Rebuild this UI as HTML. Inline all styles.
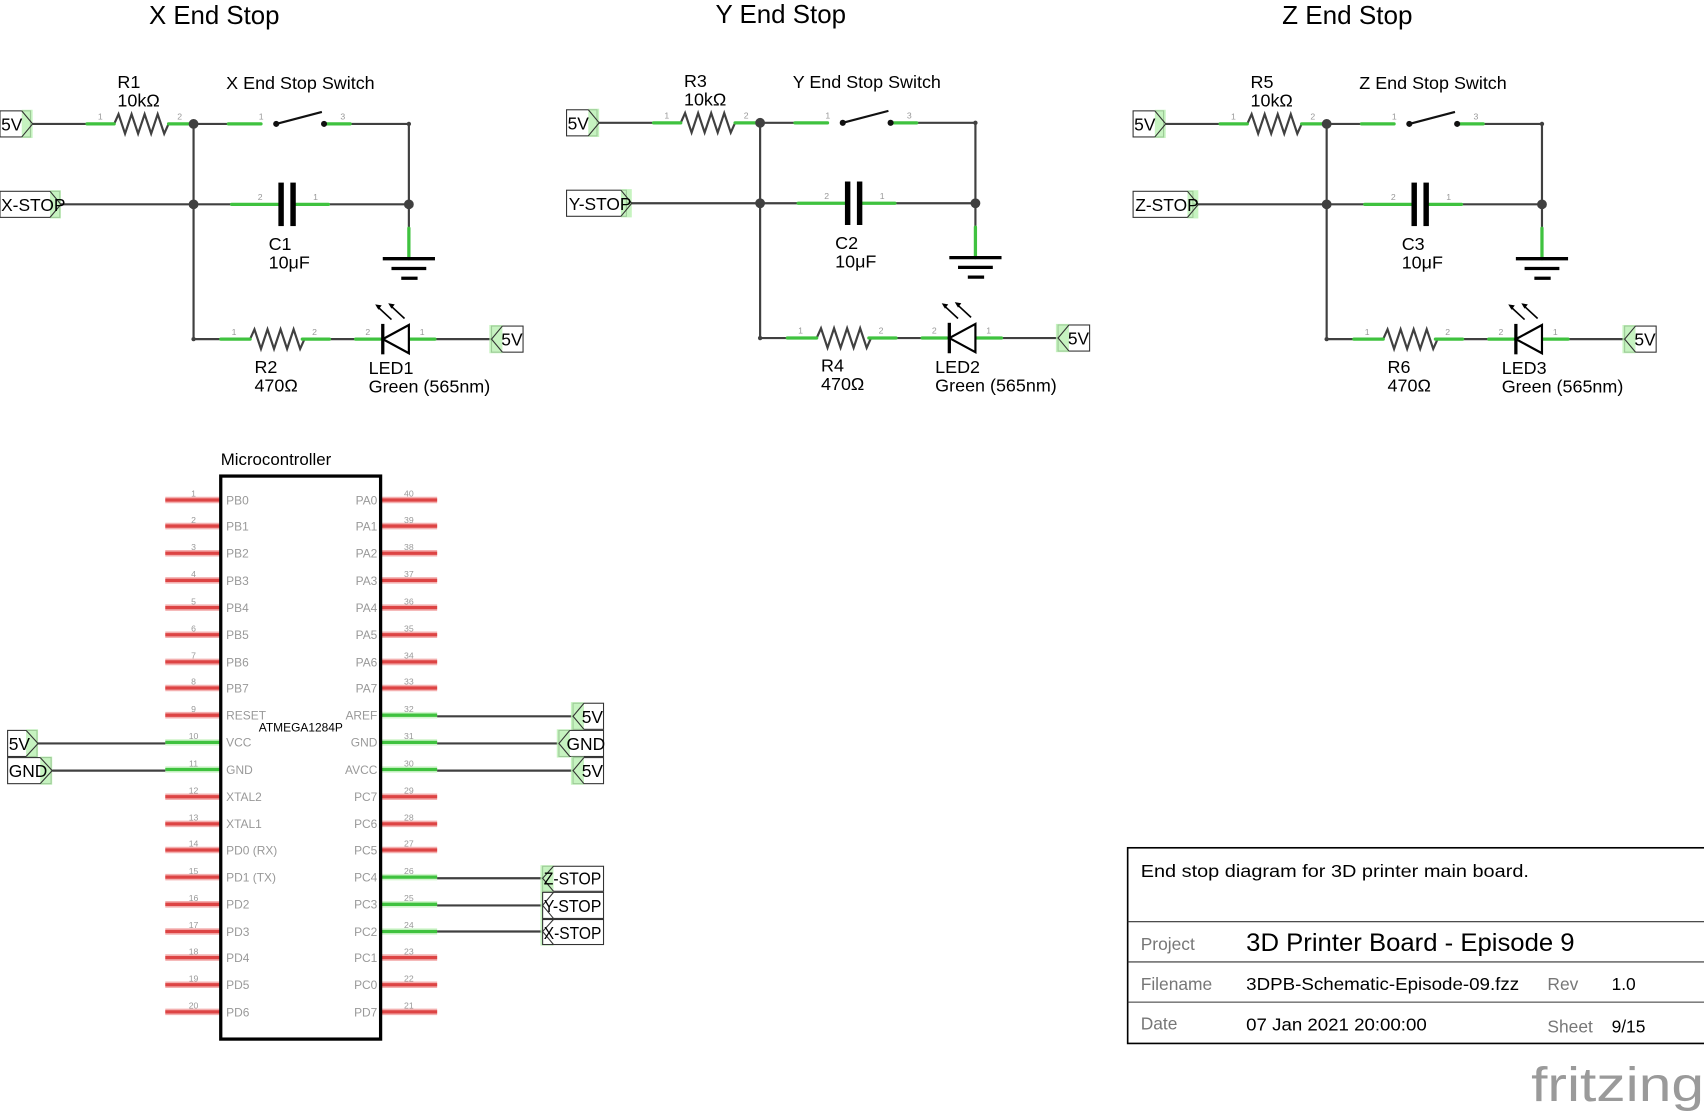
<!DOCTYPE html>
<html><head><meta charset="utf-8"><style>
html,body{margin:0;padding:0;background:#fff;}
svg{display:block;}
text{font-family:"Liberation Sans",sans-serif;}
.w{stroke:#404040;stroke-width:2;fill:none;}
.g{stroke:#3fc23f;stroke-width:3;fill:none;stroke-linecap:round;}
.n{fill:#404040;}
.pn{font-size:8px;fill:#999;}
.lb{font-size:16.5px;fill:#000;}
.ttl{font-size:24px;fill:#000;}
.nl{font-size:16px;fill:#000;}
.pin{stroke:#d44;stroke-width:3;}
.pinh{stroke:#f4b0b0;stroke-width:6;}
.gp{stroke:#3fc23f;stroke-width:3;}
.gph{stroke:#b8f0b0;stroke-width:6;}
.pname{font-size:11px;fill:#999;}
</style></head><body>
<svg width="1704" height="1113" viewBox="0 0 1567 1024" preserveAspectRatio="none" xmlns="http://www.w3.org/2000/svg">
<defs>
<g id="circ">
  <path class="w" d="M30 114H105M155 114H240M298 114H376V188M178 114V312M55 188H258M268 188H376M376 188V238M178 312H230M278 312H350M376 312H452"/>
  <path class="w" d="M105 114l4 -9l6 18l6 -18l6 18l6 -18l6 18l6 -18l6 18l4 -9"/>
  <path class="w" d="M230 312l4 -9l6 18l6 -18l6 18l6 -18l6 18l6 -18l6 18l4 -9"/>
  <path class="g" d="M80 114H105M155 114H178M210 114H240M298 114H322M213 188H256M270 188H302M376 210V238M203 312H230M278 312H303M327 312H350M376 312H400"/>
  <circle class="n" cx="178" cy="114" r="4.5"/><circle class="n" cx="178" cy="188" r="4.5"/><circle class="n" cx="376" cy="188" r="4.5"/>
  <circle class="n" cx="178" cy="312" r="2"/><circle class="n" cx="376" cy="114" r="2"/>
  <path d="M254 114L296 103" stroke="#111" stroke-width="2"/>
  <circle cx="254" cy="114" r="2.8" fill="#111"/><circle cx="298" cy="114" r="2.8" fill="#111"/>
  <rect x="256" y="168" width="5" height="40" fill="#000"/><rect x="267" y="168" width="5" height="40" fill="#000"/>
  <path d="M352 238H400M360 247H392M369 256H384" stroke="#000" stroke-width="3"/>
  <path d="M352 312L376 299V325Z" fill="#fff" stroke="#000" stroke-width="2"/>
  <path d="M352 298V326" stroke="#000" stroke-width="3"/>
  <path d="M360 294L347 282M372 293L359 281" stroke="#000" stroke-width="1.5"/>
  <path d="M345 280l6 1l-3 4zM357 279l6 1l-3 4z" fill="#000"/>
  <text class="pn" x="90" y="110">1</text><text class="pn" x="163" y="110">2</text>
  <text class="pn" x="238" y="110">1</text><text class="pn" x="313" y="110">3</text>
  <text class="pn" x="237" y="184">2</text><text class="pn" x="288" y="184">1</text>
  <text class="pn" x="213" y="308">1</text><text class="pn" x="287" y="308">2</text>
  <text class="pn" x="336" y="308">2</text><text class="pn" x="386" y="308">1</text>
  <rect x="0" y="102" width="28" height="24" fill="#fff" stroke="#333"/>
  <rect x="20" y="101" width="10" height="26" fill="#b8f0b0" opacity=".8"/>
  <path d="M20 102L30 114L20 126" fill="none" stroke="#333"/>
  <text class="nl" x="1" y="120">5V</text>
  <rect x="452" y="300" width="29" height="24" fill="#fff" stroke="#333"/>
  <rect x="450" y="299" width="12" height="26" fill="#b8f0b0" opacity=".8"/>
  <path d="M462 300L452 312L462 324" fill="none" stroke="#333"/>
  <text class="nl" x="461" y="318">5V</text>
</g>
</defs>

<use href="#circ"/>
<rect x="0" y="176" width="55" height="24" fill="#fff" stroke="#333"/>
<rect x="46" y="175" width="10" height="26" fill="#b8f0b0" opacity=".8"/>
<path d="M46 176L56 188L46 200" fill="none" stroke="#333"/>
<text class="nl" x="1" y="194">X-STOP</text>
<text class="ttl" x="137" y="22" textLength="120" lengthAdjust="spacingAndGlyphs">X End Stop</text>
<text class="lb" x="108" y="81">R1</text><text class="lb" x="108" y="98">10kΩ</text>
<text class="lb" x="208" y="82">X End Stop Switch</text>
<text class="lb" x="247" y="230">C1</text><text class="lb" x="247" y="247">10μF</text>
<text class="lb" x="234" y="343">R2</text><text class="lb" x="234" y="360">470Ω</text>
<text class="lb" x="339" y="344">LED1</text><text class="lb" x="339" y="361">Green (565nm)</text>

<g transform="translate(521,-1)">
<use href="#circ"/>
<rect x="0" y="176" width="55" height="24" fill="#fff" stroke="#333"/>
<rect x="50" y="175" width="10" height="26" fill="#b8f0b0" opacity=".8"/>
<path d="M50 176L60 188L50 200" fill="none" stroke="#333"/>
<text class="nl" x="2" y="194">Y-STOP</text>
<text class="ttl" x="137" y="22" textLength="120" lengthAdjust="spacingAndGlyphs">Y End Stop</text>
<text class="lb" x="108" y="81">R3</text><text class="lb" x="108" y="98">10kΩ</text>
<text class="lb" x="208" y="82">Y End Stop Switch</text>
<text class="lb" x="247" y="230">C2</text><text class="lb" x="247" y="247">10μF</text>
<text class="lb" x="234" y="343">R4</text><text class="lb" x="234" y="360">470Ω</text>
<text class="lb" x="339" y="344">LED2</text><text class="lb" x="339" y="361">Green (565nm)</text>
</g>

<g transform="translate(1042,0)">
<use href="#circ"/>
<rect x="0" y="176" width="55" height="24" fill="#fff" stroke="#333"/>
<rect x="50" y="175" width="10" height="26" fill="#b8f0b0" opacity=".8"/>
<path d="M50 176L60 188L50 200" fill="none" stroke="#333"/>
<text class="nl" x="2" y="194">Z-STOP</text>
<text class="ttl" x="137" y="22" textLength="120" lengthAdjust="spacingAndGlyphs">Z End Stop</text>
<text class="lb" x="108" y="81">R5</text><text class="lb" x="108" y="98">10kΩ</text>
<text class="lb" x="208" y="82">Z End Stop Switch</text>
<text class="lb" x="247" y="230">C3</text><text class="lb" x="247" y="247">10μF</text>
<text class="lb" x="234" y="343">R6</text><text class="lb" x="234" y="360">470Ω</text>
<text class="lb" x="339" y="344">LED3</text><text class="lb" x="339" y="361">Green (565nm)</text>
</g>

<text class="lb" x="203" y="428" style="font-size:15.5px">Microcontroller</text>
<g>
<path class="pinh" d="M152 460H203M152 484H203M152 509H203M152 534H203M152 559H203M152 584H203M152 609H203M152 633H203M152 658H203M152 733H203M152 758H203M152 782H203M152 807H203M152 832H203M152 857H203M152 881H203M152 906H203M152 931H203"/>
<path class="pin" d="M152 460H203M152 484H203M152 509H203M152 534H203M152 559H203M152 584H203M152 609H203M152 633H203M152 658H203M152 733H203M152 758H203M152 782H203M152 807H203M152 832H203M152 857H203M152 881H203M152 906H203M152 931H203"/>
<path class="pinh" d="M350 460H402M350 484H402M350 509H402M350 534H402M350 559H402M350 584H402M350 609H402M350 633H402M350 733H402M350 758H402M350 782H402M350 881H402M350 906H402M350 931H402"/>
<path class="pin" d="M350 460H402M350 484H402M350 509H402M350 534H402M350 559H402M350 584H402M350 609H402M350 633H402M350 733H402M350 758H402M350 782H402M350 881H402M350 906H402M350 931H402"/>
<path class="gph" d="M152 683H203M152 708H203M350 658H402M350 683H402M350 708H402M350 807H402M350 832H402M350 857H402" opacity=".6"/>
<path class="gp" d="M152 683H203M152 708H203M350 658H402M350 683H402M350 708H402M350 807H402M350 832H402M350 857H402"/>
<path class="w" d="M35 684H152M48 709H152M402 659H527M402 684H514M402 709H527M402 808H499M402 833H499M402 857H499" stroke-width="2.5"/>
<rect x="203" y="438" width="147" height="518" fill="none" stroke="#000" stroke-width="3"/>
<g class="pn" text-anchor="middle" style="font-size:8px">
<text x="178" y="457">1</text><text x="178" y="481">2</text><text x="178" y="506">3</text><text x="178" y="531">4</text><text x="178" y="556">5</text><text x="178" y="581">6</text><text x="178" y="606">7</text><text x="178" y="630">8</text><text x="178" y="655">9</text><text x="178" y="680">10</text><text x="178" y="705">11</text><text x="178" y="730">12</text><text x="178" y="755">13</text><text x="178" y="779">14</text><text x="178" y="804">15</text><text x="178" y="829">16</text><text x="178" y="854">17</text><text x="178" y="878">18</text><text x="178" y="903">19</text><text x="178" y="928">20</text>
<text x="376" y="457">40</text><text x="376" y="481">39</text><text x="376" y="506">38</text><text x="376" y="531">37</text><text x="376" y="556">36</text><text x="376" y="581">35</text><text x="376" y="606">34</text><text x="376" y="630">33</text><text x="376" y="655">32</text><text x="376" y="680">31</text><text x="376" y="705">30</text><text x="376" y="730">29</text><text x="376" y="755">28</text><text x="376" y="779">27</text><text x="376" y="804">26</text><text x="376" y="829">25</text><text x="376" y="854">24</text><text x="376" y="878">23</text><text x="376" y="903">22</text><text x="376" y="928">21</text>
</g>
<g class="pname">
<text x="208" y="464">PB0</text><text x="208" y="488">PB1</text><text x="208" y="513">PB2</text><text x="208" y="538">PB3</text><text x="208" y="563">PB4</text><text x="208" y="588">PB5</text><text x="208" y="613">PB6</text><text x="208" y="637">PB7</text><text x="208" y="662">RESET</text><text x="208" y="687">VCC</text><text x="208" y="712">GND</text><text x="208" y="737">XTAL2</text><text x="208" y="762">XTAL1</text><text x="208" y="786">PD0 (RX)</text><text x="208" y="811">PD1 (TX)</text><text x="208" y="836">PD2</text><text x="208" y="861">PD3</text><text x="208" y="885">PD4</text><text x="208" y="910">PD5</text><text x="208" y="935">PD6</text>
</g>
<g class="pname" text-anchor="end">
<text x="347" y="464">PA0</text><text x="347" y="488">PA1</text><text x="347" y="513">PA2</text><text x="347" y="538">PA3</text><text x="347" y="563">PA4</text><text x="347" y="588">PA5</text><text x="347" y="613">PA6</text><text x="347" y="637">PA7</text><text x="347" y="662">AREF</text><text x="347" y="687">GND</text><text x="347" y="712">AVCC</text><text x="347" y="737">PC7</text><text x="347" y="762">PC6</text><text x="347" y="786">PC5</text><text x="347" y="811">PC4</text><text x="347" y="836">PC3</text><text x="347" y="861">PC2</text><text x="347" y="885">PC1</text><text x="347" y="910">PC0</text><text x="347" y="935">PD7</text>
</g>
<text x="238" y="673" style="font-size:11px" fill="#000">ATMEGA1284P</text>
</g>

<rect x="7" y="672" width="27" height="24" fill="#fff" stroke="#333"/>
<rect x="24" y="671" width="11" height="26" fill="#b8f0b0" opacity=".8"/>
<path d="M24 672L35 684L24 696" fill="none" stroke="#333"/>
<text class="nl" x="8" y="690">5V</text>
<rect x="7" y="697" width="40" height="24" fill="#fff" stroke="#333"/>
<rect x="37" y="696" width="11" height="26" fill="#b8f0b0" opacity=".8"/>
<path d="M37 697L48 709L37 721" fill="none" stroke="#333"/>
<text class="nl" x="8" y="715">GND</text>
<rect x="527" y="647" width="28" height="24" fill="#fff" stroke="#333"/>
<rect x="525" y="646" width="12" height="26" fill="#b8f0b0" opacity=".8"/>
<path d="M537 647L527 659L537 671" fill="none" stroke="#333"/>
<text class="nl" x="535" y="665">5V</text>
<rect x="514" y="672" width="41" height="24" fill="#fff" stroke="#333"/>
<rect x="512" y="671" width="12" height="26" fill="#b8f0b0" opacity=".8"/>
<path d="M524 672L514 684L524 696" fill="none" stroke="#333"/>
<text class="nl" x="521" y="690">GND</text>
<rect x="527" y="697" width="28" height="24" fill="#fff" stroke="#333"/>
<rect x="525" y="696" width="12" height="26" fill="#b8f0b0" opacity=".8"/>
<path d="M537 697L527 709L537 721" fill="none" stroke="#333"/>
<text class="nl" x="535" y="715">5V</text>
<g>
<rect x="499" y="797" width="56" height="23" fill="#fff" stroke="#333"/>
<rect x="497" y="796" width="12" height="74" fill="#b8f0b0" opacity=".8"/>
<path d="M509 797L499 808L509 820" fill="none" stroke="#333"/>
<text class="nl" x="500" y="814" textLength="53" lengthAdjust="spacingAndGlyphs">Z-STOP</text>
<rect x="499" y="821" width="56" height="24" fill="#fff" stroke="#333"/>
<path d="M509 821L499 833L509 845" fill="none" stroke="#333"/>
<text class="nl" x="500" y="839" textLength="53" lengthAdjust="spacingAndGlyphs">Y-STOP</text>
<rect x="499" y="846" width="56" height="23" fill="#fff" stroke="#333"/>
<path d="M509 846L499 857L509 869" fill="none" stroke="#333"/>
<text class="nl" x="500" y="864" textLength="53" lengthAdjust="spacingAndGlyphs">X-STOP</text>
</g>

<g>
<rect x="1037" y="780" width="540" height="180" fill="none" stroke="#000" stroke-width="1.5"/>
<path d="M1037 848H1567M1037 885H1567M1037 922H1567" stroke="#333" stroke-width="1"/>
<text x="1049" y="807" font-size="16" fill="#000" textLength="357" lengthAdjust="spacingAndGlyphs">End stop diagram for 3D printer main board.</text>
<text x="1049" y="874" font-size="16" fill="#777">Project</text>
<text x="1146" y="875" font-size="23" fill="#000" textLength="302" lengthAdjust="spacingAndGlyphs">3D Printer Board - Episode 9</text>
<text x="1049" y="911" font-size="16" fill="#777">Filename</text>
<text x="1146" y="911" font-size="16" fill="#000" textLength="251" lengthAdjust="spacingAndGlyphs">3DPB-Schematic-Episode-09.fzz</text>
<text x="1423" y="911" font-size="16" fill="#777">Rev</text>
<text x="1482" y="911" font-size="16" fill="#000">1.0</text>
<text x="1049" y="947" font-size="16" fill="#777">Date</text>
<text x="1146" y="948" font-size="16" fill="#000" textLength="166" lengthAdjust="spacingAndGlyphs">07 Jan 2021 20:00:00</text>
<text x="1423" y="950" font-size="16" fill="#777">Sheet</text>
<text x="1482" y="950" font-size="16" fill="#000">9/15</text>
<text x="1408" y="1013" font-size="44" fill="#9a9a9a" textLength="159" lengthAdjust="spacingAndGlyphs">fritzing</text>
</g>
</svg>
</body></html>
